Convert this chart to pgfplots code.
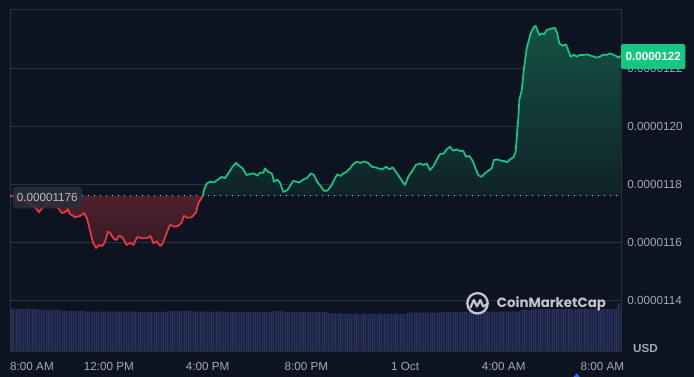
\documentclass[border=0pt]{standalone}
\usepackage{fontspec}
\setmainfont{Liberation Sans}
\newfontfamily\poppins{Poppins}
\usepackage{graphicx}
\usepackage{pgfplots}
\pgfplotsset{compat=1.18}
\usepackage{pgfplotstable}
\usetikzlibrary{patterns.meta}

\definecolor{bg}{HTML}{0D1421}
\definecolor{gridc}{HTML}{2C313D}
\definecolor{lbl}{HTML}{A1A7BB}
\definecolor{up}{HTML}{16C784}
\definecolor{down}{HTML}{EA3943}
\definecolor{upTop}{HTML}{155243}
\definecolor{upBot}{HTML}{0F2228}
\definecolor{dnTop}{HTML}{4F202C}
\definecolor{dnBot}{HTML}{371A27}
\definecolor{volbg}{HTML}{1B2242}
\definecolor{volbar}{HTML}{29335C}
\definecolor{wm}{HTML}{D5D8DE}
\definecolor{boxc}{HTML}{2A2E3B}
\definecolor{boxtxt}{HTML}{B8BCC6}
\definecolor{dots}{HTML}{C4C8D0}
\definecolor{cmcblue}{HTML}{3861FB}

% price in units of 1e-8 USD, x in hours after 8:00 AM
\pgfplotstableread{
x y
0.00 1176.0
0.07 1176.0
0.40 1174.9
0.72 1173.6
1.00 1172.2
1.17 1170.4
1.33 1172.2
1.53 1173.6
1.73 1172.9
1.94 1171.8
2.10 1170.1
2.22 1170.4
2.34 1171.5
2.42 1169.8
2.63 1168.7
2.83 1169.1
2.99 1170.1
3.11 1168.4
3.23 1164.2
3.35 1160.1
3.48 1158.0
3.60 1159.1
3.72 1158.7
3.84 1160.1
3.96 1163.6
4.04 1163.4
4.18 1161.4
4.29 1160.8
4.42 1162.3
4.56 1161.6
4.72 1159.1
4.88 1159.9
4.99 1159.1
5.15 1161.9
5.33 1161.4
5.53 1161.4
5.69 1162.2
5.80 1159.7
5.94 1160.4
6.07 1158.8
6.16 1159.3
6.31 1162.5
6.47 1166.0
6.68 1165.4
6.81 1165.7
6.95 1166.8
7.04 1169.2
7.18 1168.5
7.35 1168.6
7.53 1170.3
7.62 1173.4
7.76 1175.4
7.81 1176.0
}\redtbl

\pgfplotstableread{
x y
7.81 1176.0
7.85 1178.0
7.92 1179.4
7.97 1180.3
8.10 1180.9
8.26 1180.7
8.39 1181.5
8.57 1182.6
8.70 1182.1
8.84 1183.8
9.00 1185.9
9.15 1187.4
9.28 1186.4
9.42 1185.5
9.58 1183.2
9.74 1183.6
9.88 1183.8
10.01 1183.0
10.12 1184.0
10.26 1184.0
10.32 1185.5
10.46 1184.3
10.60 1183.8
10.69 1180.9
10.82 1181.7
10.93 1180.6
11.07 1177.4
11.23 1178.0
11.37 1179.8
11.47 1181.2
11.61 1180.9
11.71 1180.6
11.88 1181.7
12.01 1182.1
12.15 1183.4
12.19 1183.8
12.31 1183.2
12.44 1180.9
12.58 1179.4
12.71 1177.8
12.85 1177.8
13.03 1179.8
13.16 1182.1
13.25 1183.4
13.39 1182.9
13.50 1183.8
13.63 1184.3
13.77 1185.5
13.90 1187.0
14.04 1187.8
14.20 1187.4
14.34 1187.9
14.51 1187.4
14.65 1186.1
14.78 1185.9
14.92 1185.5
15.09 1185.2
15.23 1186.1
15.36 1185.2
15.50 1185.9
15.63 1184.3
15.77 1182.6
15.90 1180.9
16.00 1179.8
16.13 1182.6
16.27 1184.3
16.44 1186.7
16.60 1187.2
16.74 1186.7
16.88 1187.2
17.01 1184.9
17.14 1186.1
17.28 1188.4
17.41 1190.4
17.58 1190.7
17.69 1192.1
17.82 1193.0
17.95 1191.6
18.09 1192.1
18.23 1191.5
18.36 1191.6
18.47 1189.5
18.60 1189.8
18.74 1188.1
18.83 1186.1
18.97 1183.2
19.10 1182.6
19.24 1183.8
19.37 1184.7
19.51 1185.5
19.60 1188.4
19.74 1188.6
19.92 1188.1
20.05 1188.0
20.14 1187.6
20.25 1188.6
20.39 1189.3
20.48 1191.1
20.55 1198.7
20.60 1203.9
20.63 1209.1
20.73 1212.5
20.82 1220.0
20.93 1226.9
21.09 1232.1
21.20 1234.0
21.29 1234.7
21.36 1233.2
21.44 1231.5
21.54 1232.1
21.63 1231.7
21.74 1233.2
21.87 1233.6
21.98 1233.8
22.07 1234.0
22.17 1232.1
22.25 1228.6
22.39 1227.8
22.52 1228.3
22.61 1226.3
22.71 1224.0
22.85 1224.8
22.95 1224.0
23.06 1224.6
23.22 1224.6
23.38 1224.8
23.56 1224.3
23.76 1223.7
23.89 1224.0
24.05 1224.8
24.16 1224.6
24.30 1225.2
24.41 1224.8
24.55 1224.3
24.64 1223.7
24.74 1224.3
}\greentbl

% volume (relative units)
\pgfplotstableread{
x v
0.00 42.7
1.13 41.7
2.02 40.7
3.03 40.0
5.26 39.7
6.35 40.7
7.41 40.0
8.78 39.7
10.65 40.7
11.05 39.7
12.88 38.4
13.36 37.7
16.08 39.0
17.42 39.7
18.91 40.0
20.66 41.7
21.18 42.7
24.59 48.4
24.78 48.4
}\voltbl

\begin{document}
\begin{tikzpicture}
\fill[bg] (0pt,0pt) rectangle (694pt,377pt);

% volume
\begin{axis}[at={(10.2pt,25.3pt)}, anchor=south west, scale only axis,
  width=611.5pt, height=342.2pt,
  xmin=0, xmax=24.78, ymin=0, ymax=342.2, hide axis]
\addplot[const plot, draw=none, fill=volbg] table[x=x,y=v] {\voltbl} \closedcycle;
\addplot[const plot, draw=none, pattern={Lines[angle=90,distance=2.3pt,line width=1.0pt]}, pattern color=volbar] table[x=x,y=v] {\voltbl} \closedcycle;
\end{axis}

% price
\begin{axis}[at={(10.2pt,25.3pt)}, anchor=south west, scale only axis,
  width=611.5pt, height=342.2pt,
  xmin=0, xmax=24.78, ymin=1122.3, ymax=1240.3,
  axis line style={gridc, line width=0.8pt},
  ymajorgrids, grid style={gridc, line width=0.8pt},
  ytick={1140,1160,1180,1200,1220},
  yticklabels={0.0000114,0.0000116,0.0000118,0.0000120,0.0000122},
  yticklabel pos=right,
  xtick={0,4,8,12,16,20,24},
  xticklabels={\makebox[0pt][l]{8:00 AM},12:00 PM,4:00 PM,8:00 PM,1 Oct,4:00 AM,8:00 AM},
  major tick length=0pt, tick style={draw=none},
  ticklabel style={font=\fontsize{11.7}{13}\selectfont, text=lbl},
  yticklabel style={anchor=west, inner sep=0pt, xshift=5.5pt},
  xticklabel style={anchor=north, inner sep=0pt, yshift=-10.8pt},
]
\addplot[draw=none, top color=dnTop, bottom color=dnBot] table[x=x,y=y] {\redtbl}
  -- (axis cs:7.81,1176) -- (axis cs:0,1176) -- cycle;
\addplot[draw=none, top color=upTop, bottom color=upBot] table[x=x,y=y] {\greentbl}
  -- (axis cs:24.74,1176) -- (axis cs:7.81,1176) -- cycle;
\addplot[color=dots, line width=1pt, dash pattern=on 1.1pt off 4.9pt] coordinates {(0,1176) (24.78,1176)};
\addplot[down, line width=1.7pt, line join=round] table[x=x,y=y] {\redtbl};
\addplot[up, line width=1.7pt, line join=round] table[x=x,y=y] {\greentbl};
\end{axis}

% baseline label
\node[anchor=west, fill=boxc, fill opacity=0.85, text opacity=1, rounded corners=4pt,
  inner xsep=4.3pt, minimum height=21.6pt, text=boxtxt,
  font=\fontsize{11.7}{13}\selectfont] at (12.3pt,179.5pt) {0.00001176};

% current price label
\node[anchor=west, fill=up, rounded corners=1.5pt, inner xsep=4.4pt, minimum height=25pt,
  text=white, font=\fontsize{11.7}{13}\selectfont\bfseries] at (621pt,320.3pt) {0.0000122};

% USD
\node[anchor=west, inner sep=0pt, text=lbl, font=\fontsize{11.7}{13}\selectfont\bfseries] at (633pt,29pt) {USD};

% watermark
\begin{scope}[opacity=0.9, wm]
\draw[line width=2.3pt] (477.5pt,73.7pt) circle (10.2pt);
\draw[line width=2.2pt, line join=round, line cap=round]
  (470.5pt,69.5pt) -- (473.8pt,77pt) -- (477pt,70.5pt) -- (480.3pt,77pt) -- (483.2pt,70.5pt) -- (487.5pt,73pt);
\node[anchor=west, inner sep=0pt] at (496.7pt,73pt) {\resizebox{109pt}{!}{\poppins\bfseries CoinMarketCap}};
\end{scope}

% small marker at bottom
\fill[cmcblue] (573.5pt,0pt) -- (576.7pt,3.5pt) -- (579.9pt,0pt) -- cycle;
\end{tikzpicture}
\end{document}
